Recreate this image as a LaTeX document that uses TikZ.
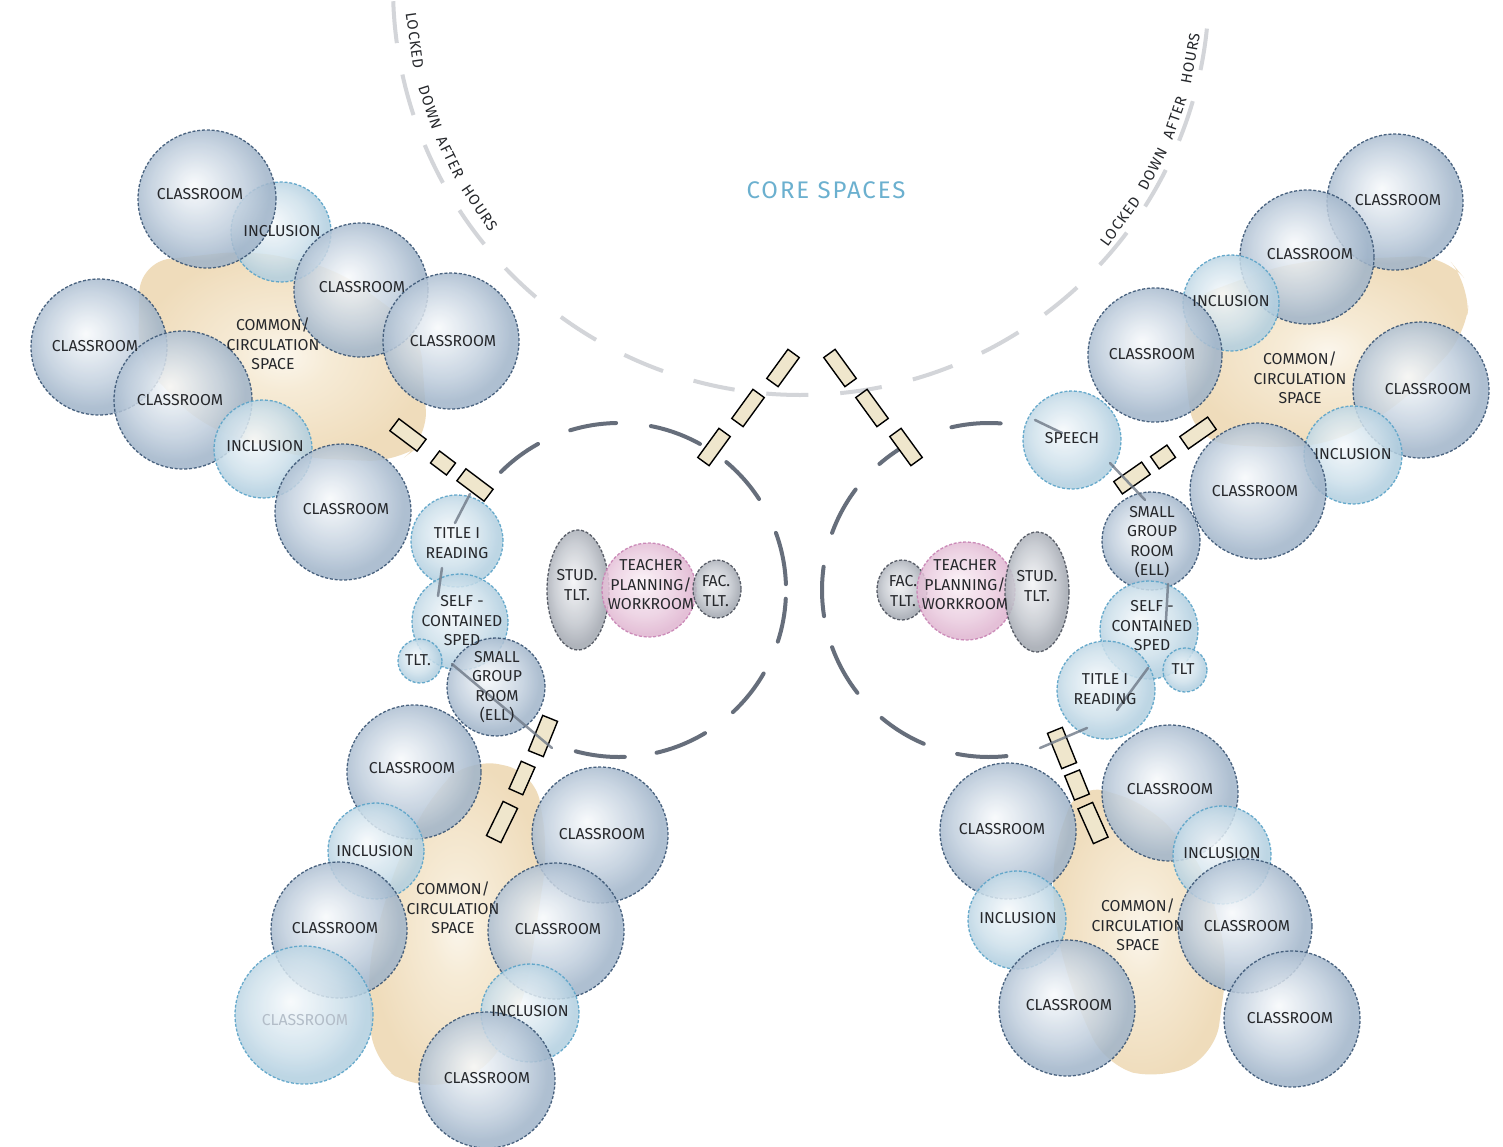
\documentclass[tikz,border=0pt]{standalone}
\usepackage{fontspec}
\setmainfont{Fira Sans}
\usetikzlibrary{shapes.geometric}

\definecolor{ink}{HTML}{26282C}
\definecolor{faintInk}{HTML}{B3BDC8}
\definecolor{clsLine}{HTML}{3A5574}
\definecolor{incLine}{HTML}{5AA3C8}
\definecolor{grayLine}{HTML}{4C515C}
\definecolor{pinkLine}{HTML}{C883B4}
\definecolor{coreBlue}{HTML}{6BB0CF}
\definecolor{doorFill}{HTML}{EFE6CC}
\definecolor{dashGray}{HTML}{666E7B}
\definecolor{hatchGray}{HTML}{D3D5D9}
\definecolor{pathGray}{HTML}{6E7886}

\definecolor{clsA}{HTML}{F8FAFC}
\definecolor{clsB}{HTML}{E2E9F0}
\definecolor{clsC}{HTML}{C0CEDD}
\definecolor{clsD}{HTML}{A0B4C9}
\definecolor{incA}{HTML}{F7FAFC}
\definecolor{incB}{HTML}{E5EFF5}
\definecolor{incC}{HTML}{CDE0EB}
\definecolor{incD}{HTML}{B2CFE0}
\definecolor{grA}{HTML}{F4F5F7}
\definecolor{grB}{HTML}{E0E2E6}
\definecolor{grC}{HTML}{C2C6CD}
\definecolor{grD}{HTML}{A2A7B0}
\definecolor{pkA}{HTML}{FCF5F9}
\definecolor{pkB}{HTML}{F4E2ED}
\definecolor{pkC}{HTML}{EBCDE0}
\definecolor{pkD}{HTML}{E0B6D1}
\definecolor{bgA}{HTML}{FBF6EC}
\definecolor{bgB}{HTML}{F6EBD6}
\definecolor{bgC}{HTML}{F2E2C6}
\definecolor{bgD}{HTML}{EFDCBB}

\pgfdeclareradialshading{clsS}{\pgfpoint{-5bp}{5bp}}{color(0bp)=(clsA); color(7bp)=(clsB); color(17bp)=(clsC); color(25bp)=(clsD); color(50bp)=(clsD)}
\pgfdeclareradialshading{incS}{\pgfpoint{-5bp}{5bp}}{color(0bp)=(incA); color(7bp)=(incB); color(17bp)=(incC); color(25bp)=(incD); color(50bp)=(incD)}
\pgfdeclareradialshading{gryS}{\pgfpoint{-4bp}{4bp}}{color(0bp)=(grA); color(7bp)=(grB); color(17bp)=(grC); color(25bp)=(grD); color(50bp)=(grD)}
\pgfdeclareradialshading{pnkS}{\pgfpoint{-4bp}{4bp}}{color(0bp)=(pkA); color(7bp)=(pkB); color(17bp)=(pkC); color(25bp)=(pkD); color(50bp)=(pkD)}
\pgfdeclareradialshading{begS}{\pgfpoint{0bp}{0bp}}{color(0bp)=(bgA); color(8bp)=(bgB); color(18bp)=(bgC); color(25bp)=(bgD); color(50bp)=(bgD)}

\tikzset{
  room/.style={circle, inner sep=0pt, line width=1.3pt, dash pattern=on 3pt off 1.8pt, fill opacity=0.85, draw opacity=0.9, shade},
  cls/.style={room, draw=clsLine, shading=clsS},
  inc/.style={room, draw=incLine, shading=incS},
  tltS/.style={room, ellipse, draw=grayLine, shading=gryS},
  pnk/.style={room, draw=pinkLine, shading=pnkS},
  blob/.style={shade, shading=begS, rounded corners=30pt, draw=none},
  door/.style={rectangle, draw=black, line width=1.4pt, fill=doorFill, inner sep=0pt},
  lbl/.style={font=\fontsize{15.8}{19.5}\selectfont, text=ink, align=center, inner sep=0pt},
  lockw/.style={font=\fontsize{15}{18}\selectfont\addfontfeatures{LetterSpace=6}, text=ink, inner sep=0pt},
  bigdash/.style={draw=dashGray, line width=4pt, line cap=round},
  hatch/.style={draw=hatchGray, line width=4pt, dash pattern=on 42pt off 32pt},
  cpath/.style={draw=pathGray, line width=2.5pt, line cap=round, opacity=0.8},
}

\begin{document}
\begin{tikzpicture}[x=1pt,y=-1pt]
\fill[white] (0,0) rectangle (1503,1147);
\useasboundingbox (0,0) rectangle (1503,1147);

% locked-down arc and its texts
\coordinate (ac) at (801,-13);
\draw[hatch] (ac) ++(178:408) arc (178:2:408);
\foreach \w/\t [count=\i] in {LOCKED/172.1, DOWN/162.0, AFTER/154.1, HOURS/145.5}
  \node[lockw, rotate=90-\t] (lkL\i) at ([shift={(ac)}]\t:390) {\w};
\foreach \w/\t [count=\i] in {LOCKED/36.3, DOWN/27.4, AFTER/19.3, HOURS/10.4}
  \node[lockw, rotate=90-\t] (lkR\i) at ([shift={(ac)}]\t:396) {\w};

\node[font=\fontsize{24}{28}\selectfont\addfontfeatures{LetterSpace=8}, text=coreBlue] (core) at (826,190) {CORE SPACES};

% big dashed circles
\coordinate (lc) at (619,590);
\coordinate (rc) at (989,590);
\foreach \a/\b in {225/241, 253/269, 281/299, 310/327, 340/358, 363/378, 390/407, 419/437, 448/465}
  \draw[bigdash] (lc) ++(\a:167) arc (\a:\b:167);
\foreach \a/\b in {200/217, 171/188, 142/160, 113/130, 84/101, 229/241, 257/274}
  \draw[bigdash] (rc) ++(\a:167) arc (\a:\b:167);

% common / circulation spaces
\path[blob] (140,262) -- (250,250) -- (335,268) -- (420,330) -- (428,440) -- (398,462) -- (300,458) -- (200,425) -- (138,360) -- cycle;
\path[blob] (1185,300) -- (1290,262) -- (1445,255) -- (1470,285) -- (1466,335) -- (1400,405) -- (1330,445) -- (1255,448) -- (1195,440) -- (1185,380) -- cycle;
\path[blob] (470,758) -- (535,772) -- (548,850) -- (525,1000) -- (485,1075) -- (415,1090) -- (372,1060) -- (368,960) -- (398,858) -- (435,790) -- cycle;
\path[blob] (1078,782) -- (1150,805) -- (1205,868) -- (1228,960) -- (1215,1055) -- (1160,1080) -- (1105,1065) -- (1075,1000) -- (1055,930) -- (1052,855) -- cycle;

% top-left cluster
\node[inc, minimum size=100pt] (tlI1) at (281,232) {};
\node[cls, minimum size=138pt] (tlA) at (207,199) {};
\node[cls, minimum size=134pt] (tlB) at (361,290) {};
\node[cls, minimum size=136pt] (tlC) at (451,341) {};
\node[cls, minimum size=136pt] (tlD) at (99,347) {};
\node[cls, minimum size=138pt] (tlE) at (183,400) {};
\node[inc, minimum size=98pt] (tlI2) at (263,449) {};
\node[cls, minimum size=136pt] (tlF) at (343,512) {};

% left column
\node[inc, minimum size=92pt] (lT) at (457,541) {};
\node[inc, minimum size=96pt] (lS) at (460,622) {};
\node[inc, minimum size=44pt] (lTlt) at (420,661) {};
\node[cls, minimum size=98pt] (lG) at (496,687) {};

% left planning group
\node[tltS, minimum width=62pt, minimum height=120pt] (pS) at (578,590) {};
\node[pnk, minimum size=94pt] (pT) at (649,590) {};
\node[tltS, minimum width=48pt, minimum height=58pt] (pF) at (717,589) {};

% right planning group
\node[tltS, minimum width=50pt, minimum height=60pt] (qF) at (902,590) {};
\node[pnk, minimum size=98pt] (qT) at (966,591) {};
\node[tltS, minimum width=64pt, minimum height=120pt] (qS) at (1037,592) {};

% right column
\node[inc, minimum size=98pt] (rSp) at (1072,440) {};
\node[cls, minimum size=98pt] (rG) at (1151,541) {};
\node[inc, minimum size=98pt] (rS) at (1149,630) {};
\node[inc, minimum size=44pt] (rTlt) at (1185,670) {};
\node[inc, minimum size=98pt] (rT) at (1106,690) {};

% top-right cluster
\node[cls, minimum size=136pt] (trA) at (1395,202) {};
\node[cls, minimum size=134pt] (trB) at (1307,257) {};
\node[inc, minimum size=96pt] (trI1) at (1231,303) {};
\node[cls, minimum size=134pt] (trC) at (1155,355) {};
\node[cls, minimum size=136pt] (trD) at (1421,390) {};
\node[inc, minimum size=98pt] (trI2) at (1353,455) {};
\node[cls, minimum size=136pt] (trE) at (1258,491) {};

% bottom-left cluster
\node[cls, minimum size=134pt] (blA) at (414,772) {};
\node[inc, minimum size=96pt] (blI1) at (376,851) {};
\node[cls, minimum size=136pt] (blB) at (600,835) {};
\node[cls, minimum size=136pt] (blC) at (339,930) {};
\node[cls, minimum size=136pt] (blD) at (556,931) {};
\node[inc, minimum size=138pt] (blE) at (304,1015) {};
\node[inc, minimum size=98pt] (blI2) at (530,1013) {};
\node[cls, minimum size=136pt] (blF) at (487,1080) {};

% bottom-right cluster
\node[cls, minimum size=136pt] (brA) at (1170,793) {};
\node[cls, minimum size=136pt] (brB) at (1008,831) {};
\node[inc, minimum size=98pt] (brI1) at (1222,855) {};
\node[inc, minimum size=98pt] (brI2) at (1017,920) {};
\node[cls, minimum size=134pt] (brC) at (1245,926) {};
\node[cls, minimum size=136pt] (brD) at (1067,1008) {};
\node[cls, minimum size=136pt] (brE) at (1292,1019) {};

% doors
\node[door, minimum width=34pt, minimum height=15pt, rotate=-37] (dTL1) at (408,435) {};
\node[door, minimum width=20pt, minimum height=15pt, rotate=-37] (dTL2) at (443,463) {};
\node[door, minimum width=34pt, minimum height=15pt, rotate=-37] (dTL3) at (475,485) {};
\node[door, minimum width=38pt, minimum height=16pt, rotate=68] (dBL1) at (543,736) {};
\node[door, minimum width=30pt, minimum height=15pt, rotate=66] (dBL2) at (522,778) {};
\node[door, minimum width=38pt, minimum height=16pt, rotate=64] (dBL3) at (502,822) {};
\node[door, minimum width=36pt, minimum height=14pt, rotate=54] (dC1) at (783,368) {};
\node[door, minimum width=36pt, minimum height=14pt, rotate=54] (dC2) at (748,408) {};
\node[door, minimum width=36pt, minimum height=14pt, rotate=54] (dC3) at (714,447) {};
\node[door, minimum width=36pt, minimum height=14pt, rotate=-54] (dC4) at (840,368) {};
\node[door, minimum width=36pt, minimum height=14pt, rotate=-54] (dC5) at (872,408) {};
\node[door, minimum width=36pt, minimum height=14pt, rotate=-54] (dC6) at (906,447) {};
\node[door, minimum width=34pt, minimum height=15pt, rotate=35] (dTR1) at (1198,433) {};
\node[door, minimum width=20pt, minimum height=15pt, rotate=35] (dTR2) at (1163,457) {};
\node[door, minimum width=34pt, minimum height=15pt, rotate=35] (dTR3) at (1132,478) {};
\node[door, minimum width=38pt, minimum height=16pt, rotate=-68] (dBR1) at (1062,748) {};
\node[door, minimum width=26pt, minimum height=16pt, rotate=-68] (dBR2) at (1077,785) {};
\node[door, minimum width=38pt, minimum height=16pt, rotate=-66] (dBR3) at (1093,823) {};

% circulation pencil lines
\coordinate (c1a) at (470,494); \coordinate (c1b) at (455,523);
\coordinate (c2a) at (442,568); \coordinate (c2b) at (438,596);
\coordinate (c3a) at (452,664); \coordinate (c3b) at (552,748);
\coordinate (c4a) at (1110,463); \coordinate (c4b) at (1145,500);
\coordinate (c5a) at (1168,584); \coordinate (c5b) at (1166,620);
\coordinate (c6a) at (1148,668); \coordinate (c6b) at (1117,710);
\coordinate (c7a) at (1087,728); \coordinate (c7b) at (1040,748);
\coordinate (c8a) at (1035,420); \coordinate (c8b) at (1062,433);
\foreach \p in {1,...,8} \draw[cpath] (c\p a) -- (c\p b);

% labels
\node[lbl] (t1) at (200,194) {CLASSROOM};
\node[lbl] (t2) at (282,231) {INCLUSION};
\node[lbl] (t3) at (362,287) {CLASSROOM};
\node[lbl] (t4) at (273,344) {COMMON/\\CIRCULATION\\SPACE};
\node[lbl] (t5) at (95,346) {CLASSROOM};
\node[lbl] (t6) at (453,341) {CLASSROOM};
\node[lbl] (t7) at (180,400) {CLASSROOM};
\node[lbl] (t8) at (265,446) {INCLUSION};
\node[lbl] (t9) at (346,509) {CLASSROOM};

\node[lbl] (t10) at (457,543) {TITLE I\\READING};
\node[lbl] (t11) at (462,621) {SELF -\\CONTAINED\\SPED};
\node[lbl] (t12) at (418,660) {TLT.};
\node[lbl] (t13) at (497,687) {SMALL\\GROUP\\ROOM\\(ELL)};

\node[lbl] (t14) at (577,585) {STUD.\\TLT.};
\node[lbl] (t15) at (651,585) {TEACHER\\PLANNING/\\WORKROOM};
\node[lbl] (t16) at (716,591) {FAC.\\TLT.};

\node[lbl] (t17) at (903,591) {FAC.\\TLT.};
\node[lbl] (t18) at (965,585) {TEACHER\\PLANNING/\\WORKROOM};
\node[lbl] (t19) at (1037,586) {STUD.\\TLT.};

\node[lbl] (t20) at (1072,438) {SPEECH};
\node[lbl] (t21) at (1152,542) {SMALL\\GROUP\\ROOM\\(ELL)};
\node[lbl] (t22) at (1152,626) {SELF -\\CONTAINED\\SPED};
\node[lbl] (t23) at (1183,669) {TLT};
\node[lbl] (t24) at (1105,689) {TITLE I\\READING};

\node[lbl] (t25) at (1398,200) {CLASSROOM};
\node[lbl] (t26) at (1310,254) {CLASSROOM};
\node[lbl] (t27) at (1231,301) {INCLUSION};
\node[lbl] (t28) at (1152,354) {CLASSROOM};
\node[lbl] (t29) at (1300,378) {COMMON/\\CIRCULATION\\SPACE};
\node[lbl] (t30) at (1428,389) {CLASSROOM};
\node[lbl] (t31) at (1353,454) {INCLUSION};
\node[lbl] (t32) at (1255,491) {CLASSROOM};

\node[lbl] (t33) at (412,768) {CLASSROOM};
\node[lbl] (t34) at (375,851) {INCLUSION};
\node[lbl] (t35) at (602,834) {CLASSROOM};
\node[lbl] (t36) at (453,908) {COMMON/\\CIRCULATION\\SPACE};
\node[lbl] (t37) at (335,928) {CLASSROOM};
\node[lbl] (t38) at (558,929) {CLASSROOM};
\node[lbl, text=faintInk] (t39) at (305,1020) {CLASSROOM};
\node[lbl] (t40) at (530,1011) {INCLUSION};
\node[lbl] (t41) at (487,1078) {CLASSROOM};

\node[lbl] (t42) at (1170,789) {CLASSROOM};
\node[lbl] (t43) at (1002,829) {CLASSROOM};
\node[lbl] (t44) at (1222,853) {INCLUSION};
\node[lbl] (t45) at (1018,918) {INCLUSION};
\node[lbl] (t46) at (1138,925) {COMMON/\\CIRCULATION\\SPACE};
\node[lbl] (t47) at (1247,926) {CLASSROOM};
\node[lbl] (t48) at (1069,1005) {CLASSROOM};
\node[lbl] (t49) at (1290,1018) {CLASSROOM};
\end{tikzpicture}
\end{document}
